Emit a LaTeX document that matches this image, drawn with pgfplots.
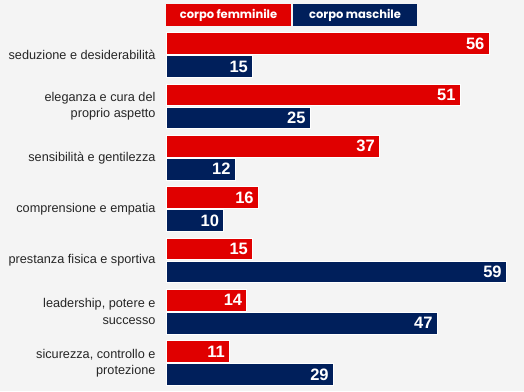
\documentclass[border=0pt]{standalone}
\usepackage{pgfplots}
\usepackage{pgfplotstable}
\pgfplotsset{compat=1.18}
\usepackage{fontspec}
\setmainfont{Liberation Sans}
\newfontfamily\legfont{Poppins}
\definecolor{bg}{HTML}{F4F4F4}
\definecolor{myred}{HTML}{E00000}
\definecolor{mynavy}{HTML}{001F5B}
\definecolor{labtxt}{HTML}{262626}
\pgfplotstableread{
pos red navy
6 56 15
5 51 25
4 37 12
3 16 10
2 15 59
1 14 47
0 11 29
}\datatab
\begin{document}
\begin{tikzpicture}[x=1pt,y=1pt]
\fill[bg] (0,0) rectangle (524,391);
\begin{axis}[
  at={(166pt,0pt)}, anchor=south west,
  scale only axis, width=358pt, height=391pt,
  xmin=0, xmax=62.07,
  ymin=-0.5455, ymax=7.072,
  axis lines=none,
  clip=false,
  xbar, bar width=21.5pt,
  /pgf/number format/assume math mode=true,
  nodes near coords,
  every node near coord/.append style={anchor=east, xshift=-1pt, text=white, font=\fontsize{16.5}{17}\selectfont\bfseries},
]
\addplot[fill=myred, draw=white, line width=0.6pt, bar shift=11.5pt] table[x=red, y=pos] {\datatab};
\addplot[fill=mynavy, draw=white, line width=0.6pt, bar shift=-11.5pt] table[x=navy, y=pos] {\datatab};
\end{axis}
\begin{axis}[
  at={(166pt,0pt)}, anchor=south west,
  scale only axis, width=358pt, height=391pt,
  xmin=0, xmax=62.07,
  ymin=-0.5455, ymax=7.072,
  hide x axis, axis y line*=left,
  y axis line style={draw=none},
  major tick length=0pt,
  ytick={0,...,6},
  yticklabels={{sicurezza, controllo e\\protezione},{leadership, potere e\\successo},{prestanza fisica e sportiva},{comprensione e empatia},{sensibilità e gentilezza},{eleganza e cura del\\proprio aspetto},{seduzione e desiderabilità}},
  yticklabel style={align=right, anchor=east, xshift=-7pt, text=labtxt, font=\fontsize{12.7}{16.5}\selectfont},
]
\addplot[draw=none, forget plot] coordinates {(0,0)};
\end{axis}
\fill[myred] (166,365) rectangle (291,387);
\fill[mynavy] (293,365) rectangle (417,387);
\node[text=white, font=\legfont\fontsize{11.5}{12}\selectfont\bfseries] at (228.5,376) {corpo femminile};
\node[text=white, font=\legfont\fontsize{11.5}{12}\selectfont\bfseries] at (355,376) {corpo maschile};
\end{tikzpicture}
\end{document}
